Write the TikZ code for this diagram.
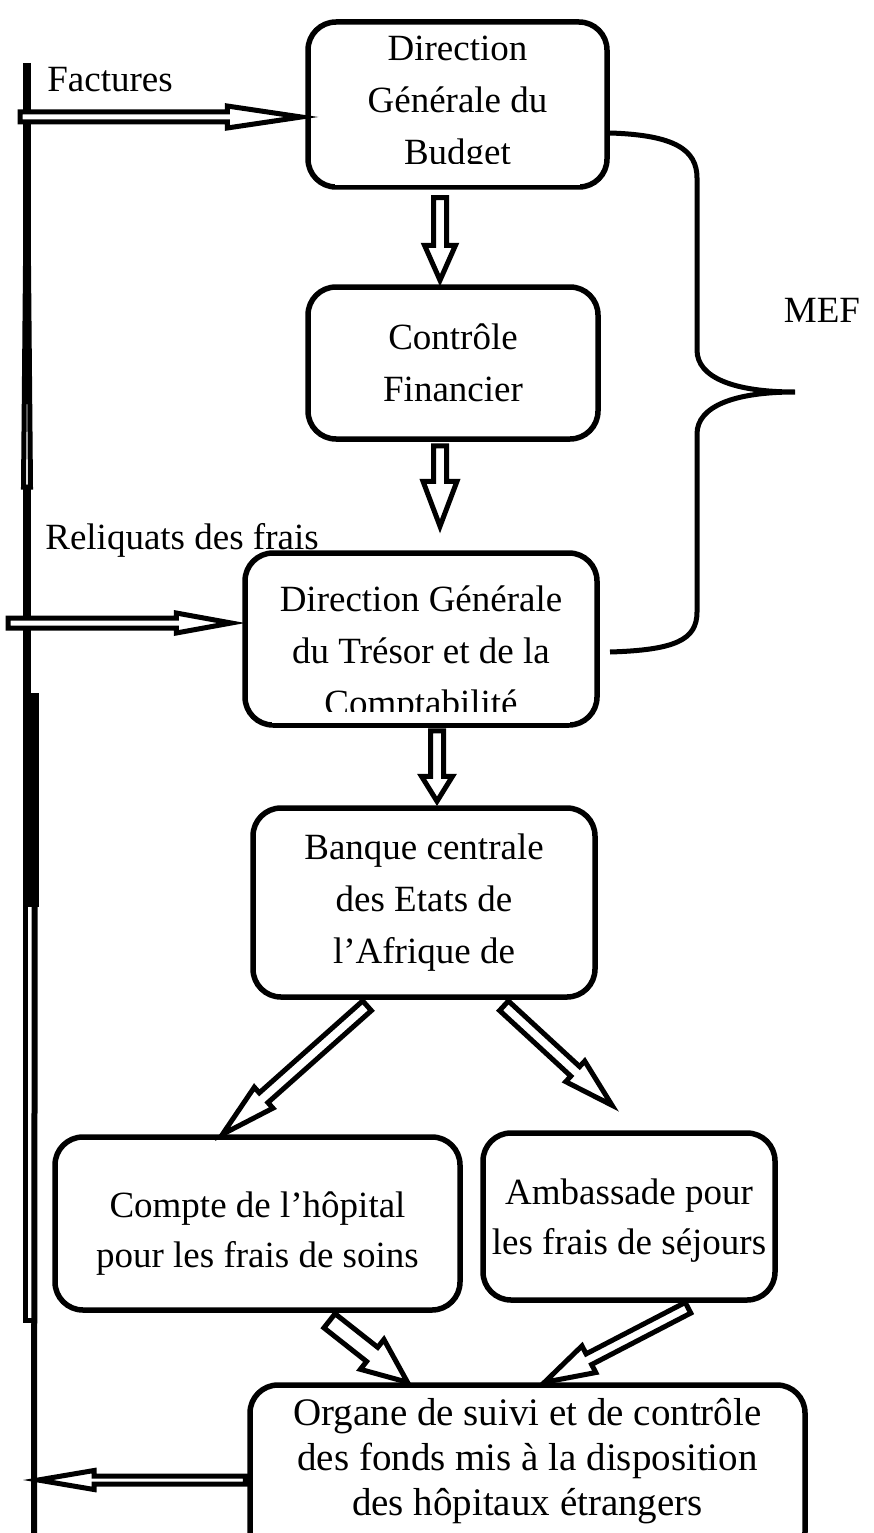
\documentclass[tikz,border=0pt]{standalone}
\usepackage{fontspec}
\setmainfont{Liberation Serif}
\usetikzlibrary{calc}

\tikzset{
  box/.style={draw, line width=5.5, rounded corners=28, align=center, inner sep=0pt},
  hollow/.style={draw, line width=5, fill=white, line join=miter},
}
% hollow arrow: from, to, shaft half width, head half width, head length
\newcommand{\flowarrow}[5]{%
  \draw[hollow] let \p1=(#1), \p2=(#2),
    \n1={atan2(\y2-\y1,\x2-\x1)}, \n2={veclen(\x2-\x1,\y2-\y1)-#5} in
    ($(\p1)+(\n1+90:#3)$) -- ($(\p1)+(\n1:\n2)+(\n1+90:#3)$)
    -- ($(\p1)+(\n1:\n2)+(\n1+90:#4)$) -- (\p2)
    -- ($(\p1)+(\n1:\n2)+(\n1-90:#4)$) -- ($(\p1)+(\n1:\n2)+(\n1-90:#3)$)
    -- ($(\p1)+(\n1-90:#3)$) -- cycle;}

\begin{document}
\begin{tikzpicture}[x=1pt, y=1pt, font=\fontsize{37}{52}\selectfont]
    \useasboundingbox (0,0) rectangle (873,-1533);

    % Boxes
    \node[box, minimum width=299, minimum height=165] (budget) at (457.5,-104.5) {Direction\\Générale du\\Budget};
    \node[box, minimum width=290, minimum height=152] (controle) at (453,-363) {Contrôle\\Financier};
    \node[box, minimum width=352, minimum height=172, text height=152, text depth=0pt] (tresor) at (421,-639) {Direction Générale\\du Trésor et de la\\Comptabilité};
    \node[box, minimum width=342, minimum height=189] (banque) at (424,-902.5) {Banque centrale\\des Etats de\\l’Afrique de};
    \node[box, minimum width=405, minimum height=173, text height=88, text depth=0pt, font=\fontsize{37}{50}\selectfont] (compte) at (257.5,-1223.5) {Compte de l’hôpital\\pour les frais de soins};
    \node[box, minimum width=292, minimum height=167, text depth=0pt, font=\fontsize{37}{50}\selectfont] (ambassade) at (629,-1216.5) {Ambassade pour\\les frais de séjours};
    \node[box, minimum width=555, minimum height=175, text depth=32, font=\fontsize{39}{45}\selectfont] (organe) at (527.5,-1472.5) {Organe de suivi et de contrôle\\des fonds mis à la disposition\\des hôpitaux étrangers};

    % cut-off last lines
    \fill[white] ($(budget.south west)+(30,4.5)$) rectangle ($(budget.south east)+(-30,26)$);
    \fill[white] ($(tresor.south west)+(30,4.5)$) rectangle ($(tresor.south east)+(-30,16)$);

    % Left line
    \draw[line width=8] (27,-63) -- (27,-907);
    \fill (23,-693) rectangle (38.5,-907);
    \draw[line width=5] (25,-907) -- (25,-1320) -- (33,-1320);
    \draw[line width=6] (35,-693) -- (34,-1533);
    \draw[hollow] (23.5,-487) -- (30.5,-487) -- (27,-100) -- cycle;

    % Labels
    \node (factures) at (110,-80) {Factures};
    \node (reliquats) at (182,-540) {Reliquats des frais};
    \node (mef) at (822,-310) {MEF};

    % Brace
    \draw[line width=5] (610,-133) .. controls (675,-135) and (697,-150) .. (697,-178) -- (697,-350)
        .. controls (697,-378) and (735,-392) .. (795,-392)
        .. controls (735,-392) and (697,-406) .. (697,-434) -- (697,-612)
        .. controls (697,-640) and (675,-650) .. (610,-652);

    % Arrows
    \coordinate (factin) at (20,-117);
    \coordinate (relin) at (8,-623);
    \coordinate (retour) at (38,-1480);
    \flowarrow{factin}{$(budget.west |- factin)+(-4,0)$}{5}{11}{74}
    \flowarrow{relin}{$(tresor.west |- relin)+(-11,0)$}{5}{10}{55}
    \flowarrow{$(organe.west |- retour)+(-2,0)$}{retour}{4}{9.5}{56}

    \flowarrow{$(budget.south)+(-17.5,-8)$}{$(controle.north)+(-13,4)$}{6.5}{15.5}{35}
    \flowarrow{$(controle.south)+(-13,-4)$}{$(tresor.north)+(19,24)$}{6.5}{17}{45}
    \flowarrow{$(tresor.south)+(16,-3)$}{$(banque.north)+(13,4)$}{6.5}{15.5}{25}

    \flowarrow{$(banque.south)+(-57,-6)$}{$(compte.north)+(-35,0)$}{6.5}{14}{55}
    \flowarrow{$(banque.south)+(80,-6)$}{$(ambassade.north)+(-17,25)$}{6.5}{14}{50}

    \flowarrow{$(compte.south)+(72,-8)$}{$(organe.north)+(-120,0)$}{9}{19}{45}
    \flowarrow{$(ambassade.south)+(59,-5)$}{$(organe.north)+(17,0)$}{6}{15}{50}
\end{tikzpicture}
\end{document}
